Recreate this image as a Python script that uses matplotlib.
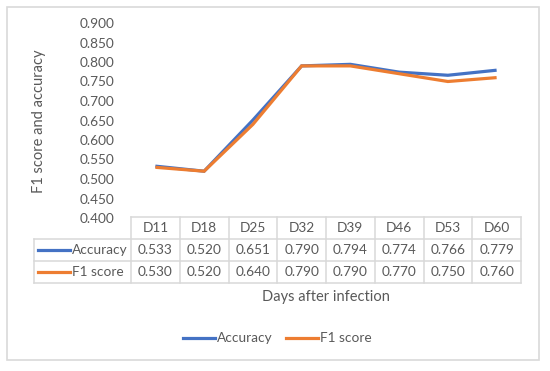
import matplotlib
matplotlib.use("Agg")
import matplotlib.pyplot as plt
from matplotlib.lines import Line2D
from matplotlib.patches import Rectangle

days = ["D11", "D18", "D25", "D32", "D39", "D46", "D53", "D60"]
accuracy = [0.533, 0.520, 0.651, 0.790, 0.794, 0.774, 0.766, 0.779]
f1_score = [0.530, 0.520, 0.640, 0.790, 0.790, 0.770, 0.750, 0.760]
series_names = ["Accuracy", "F1 score"]
yticks = [0.40, 0.45, 0.50, 0.55, 0.60, 0.65, 0.70, 0.75, 0.80, 0.85, 0.90]

W, H = 550, 371
plt.rcParams['font.family'] = ['Lato', 'DejaVu Sans']
fig = plt.figure(figsize=(W / 100, H / 100), dpi=100)

def fx(px):
    return px / W

def fy(py):
    return 1 - py / H

txt = "#595959"
grid = "#D9D9D9"
blue = "#4472C4"
orange = "#ED7D31"

# outer border
fig.add_artist(Rectangle((fx(7), fy(360)), fx(539) - fx(7), fy(7) - fy(360),
                         transform=fig.transFigure, fill=False, ec=grid, lw=1.2))

left, right, top, bottom = 131, 521, 23, 218
ax = fig.add_axes([fx(left), fy(bottom), fx(right) - fx(left), fy(top) - fy(bottom)])
x = list(range(len(days)))
ax.plot(x, accuracy, color=blue, lw=2.3, solid_capstyle='butt', solid_joinstyle='miter')
ax.plot(x, f1_score, color=orange, lw=2.3, solid_capstyle='butt', solid_joinstyle='miter')
ax.set_xlim(-0.5, len(days) - 0.5)
ax.set_ylim(0.4, 0.9)
ax.set_yticks(yticks)
ax.set_yticklabels([f"{v:.3f}" for v in yticks], color=txt, fontsize=9.8)
ax.tick_params(axis='y', length=0, pad=12)
ax.set_xticks([])
for s in ax.spines.values():
    s.set_visible(False)
ax.patch.set_alpha(0)

fig.text(fx(39), fy(121), "F1 score and accuracy", rotation=90, ha='center', va='center',
         color=txt, fontsize=10.5)

# data table
colw = (right - left) / len(days)
rows_y = [217, 239, 261, 283]
def hline(x0, x1, y):
    fig.add_artist(Line2D([fx(x0), fx(x1)], [fy(y), fy(y)], color=grid, lw=1.1))
def vline(xp, y0, y1):
    fig.add_artist(Line2D([fx(xp), fx(xp)], [fy(y0), fy(y1)], color=grid, lw=1.1))

hline(left, right, rows_y[0])
for yy in rows_y[1:]:
    hline(34, right, yy)
vline(34, rows_y[1], rows_y[3])
for i in range(len(days) + 1):
    vline(left + i * colw, rows_y[0], rows_y[3])

for i, d in enumerate(days):
    cx = left + (i + 0.5) * colw
    fig.text(fx(cx), fy((rows_y[0] + rows_y[1]) / 2), d, ha='center', va='center', color=txt, fontsize=9.8)
    fig.text(fx(cx), fy((rows_y[1] + rows_y[2]) / 2), f"{accuracy[i]:.3f}", ha='center', va='center', color=txt, fontsize=9.8)
    fig.text(fx(cx), fy((rows_y[2] + rows_y[3]) / 2), f"{f1_score[i]:.3f}", ha='center', va='center', color=txt, fontsize=9.8)

for r, (name, col) in enumerate(zip(series_names, [blue, orange])):
    yc = (rows_y[1 + r] + rows_y[2 + r]) / 2
    fig.add_artist(Line2D([fx(38), fx(70)], [fy(yc), fy(yc)], color=col, lw=2.3))
    fig.text(fx(72), fy(yc), name, ha='left', va='center', color=txt, fontsize=9.8)

fig.text(fx((left + right) / 2), fy(297), "Days after infection", ha='center', va='center',
         color=txt, fontsize=10.5)

# legend
for (x0, name, col) in [(183, series_names[0], blue), (286, series_names[1], orange)]:
    fig.add_artist(Line2D([fx(x0), fx(x0 + 32)], [fy(338), fy(338)], color=col, lw=2.3))
    fig.text(fx(x0 + 34), fy(338), name, ha='left', va='center', color=txt, fontsize=9.8)

fig.savefig("out.png", dpi=100)
